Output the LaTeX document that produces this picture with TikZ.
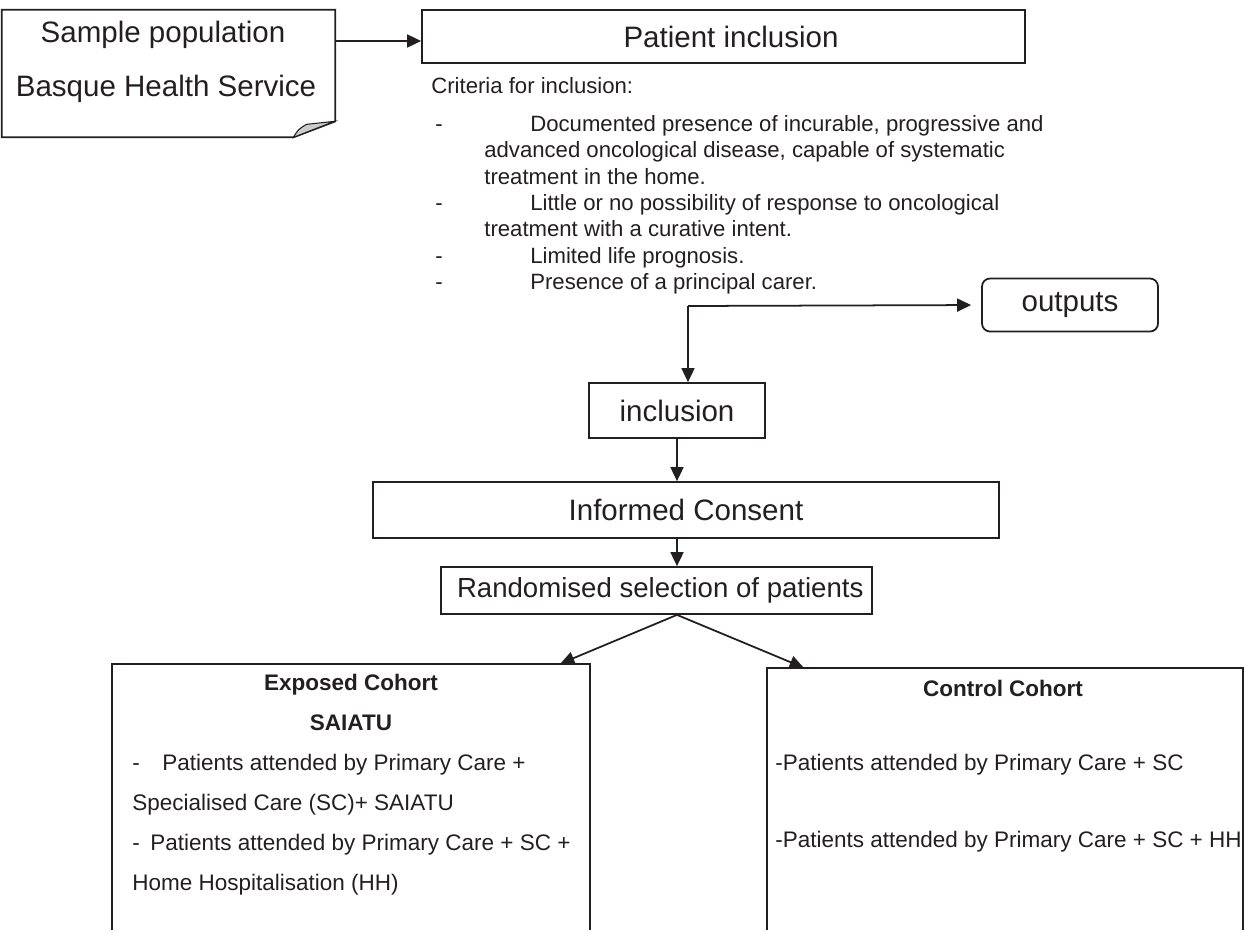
\documentclass[tikz,border=0pt]{standalone}
\usepackage{fontspec}
\setmainfont{Liberation Sans}
\usetikzlibrary{arrows.meta,calc,positioning}
\definecolor{ink}{HTML}{231F20}
\def\bigtxt{\fontsize{16.8}{20}\selectfont}
\def\midtxt{\fontsize{15.7}{19}\selectfont}
\def\smalltxt{\fontsize{12.6}{15}\selectfont}
\def\cohorttxt{\fontsize{12.8}{22.7}\selectfont}
\tikzset{
	stage/.style={draw=ink, line width=1pt, inner sep=0pt, font=\bigtxt, text=ink},
	frame/.style={draw=ink, line width=1pt},
	arr/.style={draw=ink, line width=1pt, -{Triangle[length=2.8mm,width=2.6mm]}},
	txt/.style={text=ink, inner sep=0pt},
}

\begin{document}
\begin{tikzpicture}[x=0.2mm, y=-0.2mm]
				\useasboundingbox (0,0) rectangle (1245,930);
				
				\node[inner sep=0pt, minimum width=66.6mm, minimum height=25.4mm] (sample) at (168.5,73.5) {};
				\draw[frame] (sample.north west) -- (sample.north east) -- ($(sample.south east)+(0,-16)$) -- ($(sample.south east)+(-42,0)$) -- (sample.south west) -- cycle;
				\draw[draw=ink, line width=0.6pt, fill=black!20] ($(sample.south east)+(-42,0)$) .. controls ($(sample.south east)+(-37,-8)$) .. ($(sample.south east)+(-29,-13)$) -- ($(sample.south east)+(-1,-16)$) -- cycle;
				\node[txt, font=\bigtxt] (samptitle) at (163,35) {Sample population};
				\node[txt, font=\bigtxt] (sampsub) at (166,89) {Basque Health Service};
				
				\node[stage, minimum width=120.6mm, minimum height=10.6mm] (pinc) at (723.5,36.5) {\hspace{3mm}Patient inclusion};
				\draw[arr] ([yshift=-0.9mm]pinc.west -| sample.east) -- ([yshift=-0.9mm]pinc.west);
				
				\node[txt, font=\smalltxt, anchor=west] (critlbl) at (431,86) {Criteria for inclusion:};
				\node[txt, font=\smalltxt, anchor=north west, align=left] (critlist) at (435,115) {%
					\makebox[19mm][l]{-}Documented presence of incurable, progressive and\\
					\hspace*{9.8mm}advanced oncological disease, capable of systematic\\
					\hspace*{9.8mm}treatment in the home.\\
					\makebox[19mm][l]{-}Little or no possibility of response to oncological\\
					\hspace*{9.8mm}treatment with a curative intent.\\
					\makebox[19mm][l]{-}Limited life prognosis.\\
					\makebox[19mm][l]{-}Presence of a principal carer.};
				
				\node[stage, rounded corners=1.6mm, minimum width=35.2mm, minimum height=10.6mm] (outputs) at (1070,305) {outputs};
				\node[stage, minimum width=35.2mm, minimum height=11mm] (incl) at (677,410.5) {inclusion};
				\coordinate (split) at (688,306);
				\draw[arr, shorten >=2mm] (split) -- (outputs.west);
				\draw[arr] (split) -- (split |- incl.north);
				
				\node[stage, minimum width=125.2mm, minimum height=11.2mm] (consent) at (686,510) {Informed Consent};
				\draw[arr] (incl.south) -- (incl.south |- consent.north);
				
				\node[stage, font=\midtxt, minimum width=86.2mm, minimum height=9.4mm] (rand) at (656.5,590.5) {\hspace{1.5mm}Randomised selection of patients};
				\draw[arr] (consent.south -| incl.south) -- (rand.north -| incl.south);
				\coordinate (fork) at (rand.south -| incl.south);
				
				\node[inner sep=0pt, minimum width=95.6mm, minimum height=53.2mm] (exposed) at (351,797) {};
				\draw[frame] (exposed.south west) -- (exposed.north west) -- (exposed.north east) -- (exposed.south east);
				\draw[arr] (fork) -- ($(exposed.north east)+(-30,0)$);
				\node[txt, font=\cohorttxt\bfseries] (exptitle) at (351,685) {Exposed Cohort};
				\node[txt, font=\cohorttxt\bfseries] (expsub) at (351,723) {SAIATU};
				\node[txt, font=\cohorttxt, anchor=north west, align=left] (explist) at (132,754) {%
					\makebox[6mm][l]{-}Patients attended by Primary Care +\\
					Specialised Care (SC)+ SAIATU\\
					\makebox[3.6mm][l]{-}Patients attended by Primary Care + SC +\\
					Home Hospitalisation (HH)};
				
				\node[inner sep=0pt, minimum width=95.2mm, minimum height=52.4mm] (control) at (1005,799) {};
				\draw[frame] (control.south west) -- (control.north west) -- (control.north east) -- (control.south east);
				\draw[arr] (fork) -- ($(control.north west)+(37,0)$);
				\node[txt, font=\cohorttxt\bfseries] (ctltitle) at (1003,688) {Control Cohort};
				\node[txt, font=\cohorttxt, anchor=west] (ctlone) at (775,765) {-Patients attended by Primary Care + SC};
				\node[txt, font=\cohorttxt, anchor=west] (ctltwo) at (775,842) {-Patients attended by Primary Care + SC + HH};
\end{tikzpicture}
\end{document}
